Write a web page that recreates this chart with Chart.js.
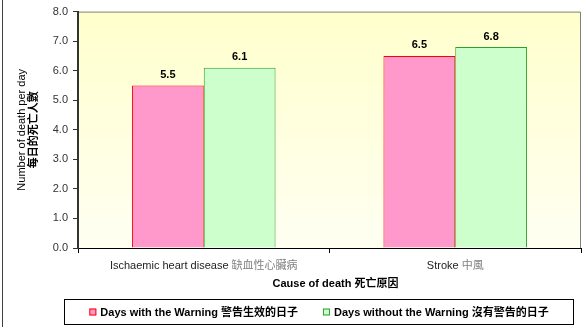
<!DOCTYPE html>
<html>
<head>
<meta charset="utf-8">
<script src="https://cdn.jsdelivr.net/npm/chart.js@4/dist/chart.umd.min.js"></script>
<style>
  body { margin: 0; background: #fff; }
  #wrap { position: relative; width: 588px; height: 327px; }
</style>
</head>
<body>
<div id="wrap"><canvas id="myChart" width="588" height="327"></canvas></div>
<script>
// categories (English part / Chinese part)
var causeEn = ['Ischaemic heart disease', 'Stroke'];
var causeZh = ['缺血性心臟病', '中風'];

// series
var warnLabel = 'Days with the Warning 警告生效的日子';
var warnValues = [5.5, 6.5];
var noWarnLabel = 'Days without the Warning 沒有警告的日子';
var noWarnValues = [6.1, 6.8];

// axis texts
var yTitleEn = 'Number of death per day';
var yTitleZh = '每日的死亡人數';
var xTitle = 'Cause of death 死亡原因';

var FONT = '"Liberation Sans", Arial, "Noto Sans CJK TC", sans-serif';

// plot background + frame, value labels, axis labels and the boxed legend
var decor = {
    id: 'decor',
    beforeDraw: function(chart) {
        var c = chart.ctx, a = chart.chartArea;
        c.save();
        c.fillStyle = '#fff';
        c.fillRect(0, 0, chart.width, chart.height);
        var g = c.createLinearGradient(0, a.top, 0, a.bottom);
        g.addColorStop(0, '#FFFFCC');
        g.addColorStop(1, '#FFFFF2');
        c.fillStyle = g;
        c.fillRect(a.left, a.top, a.right - a.left, a.bottom - a.top);
        c.strokeStyle = '#808080';
        c.lineWidth = 1;
        c.beginPath();
        c.moveTo(a.left, a.top + 0.5);
        c.lineTo(a.right - 0.5, a.top + 0.5);
        c.lineTo(a.right - 0.5, a.bottom);
        c.stroke();
        // outer frame (left edge only is visible)
        c.strokeStyle = '#404040';
        c.beginPath();
        c.moveTo(2.5, 0);
        c.lineTo(2.5, chart.height);
        c.stroke();
        c.restore();
    },
    afterDatasetsDraw: function(chart) {
        var c = chart.ctx;
        c.save();
        c.font = 'bold 11px ' + FONT;
        c.fillStyle = '#000';
        c.textAlign = 'center';
        c.textBaseline = 'bottom';
        chart.data.datasets.forEach(function(ds, i) {
            chart.getDatasetMeta(i).data.forEach(function(bar, j) {
                c.fillText(ds.data[j].toFixed(1), bar.x, bar.y - 5);
            });
        });
        c.restore();
    },
    afterDraw: function(chart) {
        var c = chart.ctx, a = chart.chartArea;
        var xs = chart.scales.x;
        c.save();
        c.textBaseline = 'middle';

        // x category labels, English dark and Chinese grey
        c.font = '11px ' + FONT;
        causeEn.forEach(function(en, i) {
            var t1 = en + ' ', t2 = causeZh[i];
            var w1 = c.measureText(t1).width, w2 = c.measureText(t2).width;
            var x0 = xs.getPixelForValue(i) - (w1 + w2) / 2;
            c.textAlign = 'left';
            c.fillStyle = '#222';
            c.fillText(t1, x0, a.bottom + 18);
            c.fillStyle = '#808080';
            c.fillText(t2, x0 + w1, a.bottom + 18);
        });

        // x title
        c.font = 'bold 11px ' + FONT;
        c.fillStyle = '#000';
        c.textAlign = 'center';
        c.fillText(xTitle, (a.left + a.right) / 2 + 6, a.bottom + 36);

        // y title, two lines
        c.save();
        c.translate(22, (a.top + a.bottom) / 2);
        c.rotate(-Math.PI / 2);
        c.font = '11px ' + FONT;
        c.fillStyle = '#000';
        c.fillText(yTitleEn, 0, 0);
        c.font = 'bold 11px ' + FONT;
        c.fillText(yTitleZh, 0, 12);
        c.restore();

        // legend box
        var bx = 64.5, by = 299.5, bw = 509, bh = 25;
        c.strokeStyle = '#000';
        c.lineWidth = 1;
        c.strokeRect(bx, by, bw, bh);
        c.font = 'bold 11px ' + FONT;
        var ds = chart.data.datasets;
        var widths = ds.map(function(d) { return 7 + 4 + c.measureText(d.label).width; });
        var gap = 25;
        var total = widths[0] + gap + widths[1];
        var x = bx + (bw - total) / 2;
        var cy = by + bh / 2;
        ds.forEach(function(d, i) {
            c.fillStyle = d.backgroundColor;
            c.fillRect(x, cy - 3.5, 7, 7);
            c.strokeStyle = d.borderColor;
            c.strokeRect(x + 0.5, cy - 3, 6, 6);
            c.fillStyle = '#000';
            c.textAlign = 'left';
            c.fillText(d.label, x + 11, cy + 1);
            x += widths[i] + gap;
        });
        c.restore();
    }
};

var ctx = document.getElementById('myChart').getContext('2d');
var myChart = new Chart(ctx, {
    type: 'bar',
    data: {
        labels: causeEn,
        datasets: [{
            label: warnLabel,
            data: warnValues,
            backgroundColor: '#FF99CC',
            borderColor: '#FF0000',
            borderWidth: 1,
            barPercentage: 1.0,
            categoryPercentage: 0.571
        }, {
            label: noWarnLabel,
            data: noWarnValues,
            backgroundColor: '#CCFFCC',
            borderColor: '#2E9E2E',
            borderWidth: 1,
            barPercentage: 1.0,
            categoryPercentage: 0.571
        }]
    },
    options: {
        responsive: false,
        animation: false,
        layout: { padding: { left: 0, right: 7, top: 8, bottom: 0 } },
        plugins: {
            legend: { display: false },
            tooltip: { enabled: false }
        },
        scales: {
            x: {
                grid: { display: true, offset: true, drawOnChartArea: false, tickLength: 5, color: '#000' },
                border: { color: '#000', width: 1 },
                ticks: { display: false },
                afterFit: function(scale) { scale.height = 79; }
            },
            y: {
                min: 0,
                max: 8,
                ticks: {
                    stepSize: 1,
                    padding: 5,
                    color: '#333',
                    font: { family: FONT, size: 11 },
                    callback: function(v) { return v.toFixed(1); }
                },
                grid: { drawOnChartArea: false, tickLength: 5, color: '#333' },
                border: { color: '#333', width: 2 },
                afterFit: function(scale) { scale.width = 78; }
            }
        }
    },
    plugins: [decor]
});
</script>
</body>
</html>
